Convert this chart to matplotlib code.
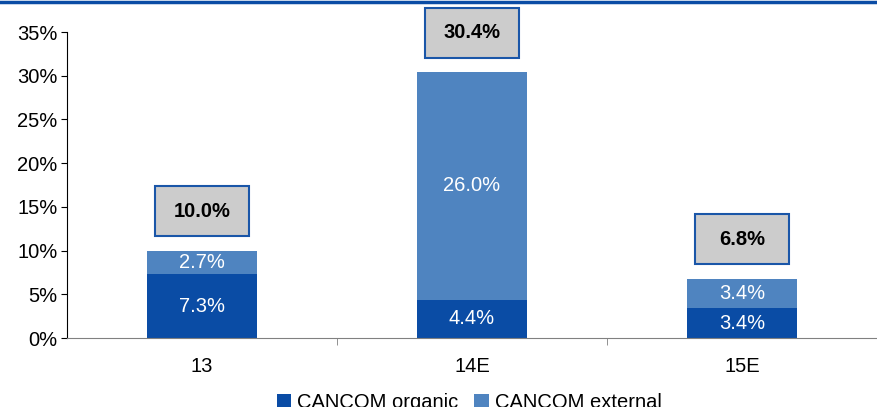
import matplotlib.pyplot as plt
from matplotlib.patches import Rectangle
from matplotlib.lines import Line2D
import numpy as np

plt.rcParams['font.family'] = ['Liberation Sans', 'DejaVu Sans']

categories = ['13', '14E', '15E']
organic = [7.3, 4.4, 3.4]
external = [2.7, 26.0, 3.4]
totals = [10.0, 30.4, 6.8]

dark_blue = '#0A4CA5'
light_blue = '#4F84C0'
fs = 14.5

fig = plt.figure(figsize=(8.77, 4.07), dpi=100)
ax = fig.add_axes([67 / 877, 1 - 338 / 407, 1 - 67 / 877, (338 - 32) / 407])

x = np.arange(len(categories))
w = 0.41
b1 = ax.bar(x, organic, w, color=dark_blue, label='CANCOM organic')
b2 = ax.bar(x, external, w, bottom=organic, color=light_blue, label='CANCOM external')

for i in range(len(categories)):
    ax.text(x[i], organic[i] / 2, f'{organic[i]:.1f}%', ha='center', va='center',
            color='white', fontsize=fs)
    ax.text(x[i], organic[i] + external[i] / 2, f'{external[i]:.1f}%', ha='center',
            va='center', color='white', fontsize=fs)
    # total box above each bar
    cy = totals[i] + 4.5
    ax.add_patch(Rectangle((x[i] - 0.174, cy - 2.85), 0.348, 5.7, facecolor='#CCCCCC',
                           edgecolor='#1A56A8', lw=1.5, clip_on=False, zorder=3))
    ax.text(x[i], cy, f'{totals[i]:.1f}%', ha='center', va='center', fontsize=fs,
            fontweight='bold', zorder=4)

ax.set_xlim(-0.5, 2.5)
ax.set_ylim(0, 35)
ax.set_yticks(np.arange(0, 36, 5))
ax.set_yticklabels([f'{v}%' for v in range(0, 36, 5)], fontsize=fs)
ax.set_xticks(x)
ax.set_xticklabels(categories, fontsize=fs)
ax.tick_params(axis='x', length=0, pad=14)
ax.set_xticks([0.5, 1.5], minor=True)
ax.tick_params(axis='x', which='minor', length=5, color='#808080')
ax.tick_params(axis='y', length=4.5, pad=2.5)

ax.spines['top'].set_visible(False)
ax.spines['right'].set_visible(False)
ax.spines['bottom'].set_color('#808080')

fig.legend(handles=[b1, b2], loc='upper center', bbox_to_anchor=(0.535, 1 - 383 / 407),
           ncol=2, frameon=False, fontsize=fs, handlelength=0.7, handleheight=0.7,
           handletextpad=0.3, columnspacing=0.8, borderpad=0)

fig.add_artist(Line2D([0, 1], [1 - 1.5 / 407, 1 - 1.5 / 407], color=dark_blue, lw=2.5,
                      transform=fig.transFigure))

fig.savefig('out.png', dpi=100)
